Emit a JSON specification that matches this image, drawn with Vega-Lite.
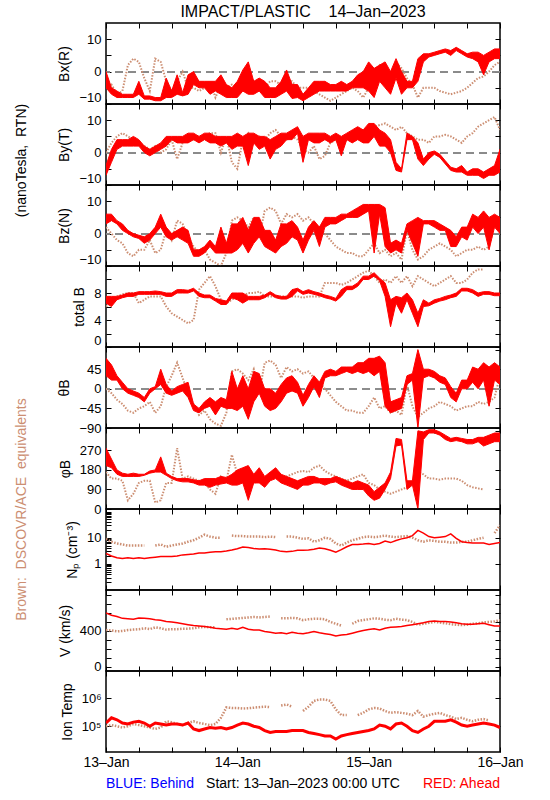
{
"$schema":"https://vega.github.io/schema/vega-lite/v6.json",
"background":"white",
"padding":{"left":13,"top":2,"right":5,"bottom":5},
"datasets":{"d":[
{"h":0,"xl":-5,"xu":0,"xb":-5,"yl":-7,"yu":-4,"yb":0,"zl":3,"zu":6,"zb":2,"bl":6.5,"bu":7.5,"bb":6,"al":30,"au":70,"ab":0,"pl":200,"pu":280,"pb":170,"n":2.5,"nb":9,"v":600,"vb":410,"t":1.3e5,"tb":1e5},
{"h":1,"xl":-7,"xu":-5,"xb":-4,"yl":-3,"yu":1,"yb":3,"zl":4,"zu":6,"zb":0,"bl":6,"bu":7.5,"bb":6.5,"al":20,"au":55,"ab":-10,"pl":190,"pu":230,"pb":140,"n":2,"nb":7,"v":575,"vb":405,"t":2e5,"tb":1.1e5},
{"h":2,"xl":-8,"xu":-6,"xb":-7,"yl":1,"yu":4,"yb":5,"zl":3,"zu":4,"zb":-2,"bl":7,"bu":7.5,"bb":7.5,"al":20,"au":30,"ab":-25,"pl":160,"pu":180,"pb":140,"n":1.7,"nb":6,"v":560,"vb":395,"t":1.7e5,"tb":1e5},
{"h":3,"xl":-8,"xu":-7,"xb":-6,"yl":2,"yu":4,"yb":6,"zl":1,"zu":3,"zb":-3,"bl":7.3,"bu":7.7,"bb":7.8,"al":0,"au":15,"ab":-35,"pl":150,"pu":165,"pb":130,"n":1.6,"nb":5.5,"v":540,"vb":400,"t":1.3e5,"tb":9e4},
{"h":4,"xl":-8,"xu":-7,"xb":2,"yl":2,"yu":4,"yb":5,"zl":0,"zu":1,"zb":-6,"bl":7.5,"bu":8,"bb":8,"al":-10,"au":0,"ab":-50,"pl":150,"pu":160,"pb":40,"n":1.7,"nb":5,"v":535,"vb":410,"t":1.2e5,"tb":1e5},
{"h":5,"xl":-8,"xu":-7,"xb":4,"yl":2,"yu":5,"yb":4,"zl":-1,"zu":0,"zb":-7,"bl":7.5,"bu":8,"bb":8,"al":-15,"au":-5,"ab":-55,"pl":150,"pu":165,"pb":70,"n":1.6,"nb":5,"v":530,"vb":415,"t":1.4e5,"tb":1.2e5},
{"h":6,"xl":-7,"xu":-3,"xb":3,"yl":2,"yu":4,"yb":3,"zl":-1.5,"zu":-0.5,"zb":-5,"bl":7.8,"bu":8.2,"bb":6.5,"al":-20,"au":-10,"ab":-45,"pl":150,"pu":160,"pb":120,"n":1.7,"nb":5,"v":545,"vb":420,"t":1.5e5,"tb":1.1e5},
{"h":7,"xl":-8.5,"xu":-7.5,"xb":-2,"yl":0,"yu":2,"yb":2,"zl":-3,"zu":-1,"zb":-5,"bl":7.8,"bu":8.2,"bb":7,"al":-30,"au":-20,"ab":-40,"pl":155,"pu":160,"pb":130,"n":1.6,"nb":5,"v":540,"vb":430,"t":1.3e5,"tb":1e5},
{"h":8,"xl":-8.5,"xu":-7.5,"xb":-6,"yl":-1,"yu":1,"yb":1,"zl":-2,"zu":0,"zb":-2,"bl":7.8,"bu":8.2,"bb":7.5,"al":-10,"au":0,"ab":-30,"pl":165,"pu":175,"pb":130,"n":1.7,"nb":null,"v":535,"vb":420,"t":1e5,"tb":9e4},
{"h":9,"xl":-9,"xu":-8,"xb":4,"yl":0,"yu":2,"yb":2,"zl":0,"zu":2,"zb":-6,"bl":7.8,"bu":8.3,"bb":7.5,"al":0,"au":5,"ab":-55,"pl":170,"pu":180,"pb":30,"n":1.8,"nb":5,"v":525,"vb":440,"t":1.3e5,"tb":8e4},
{"h":10,"xl":-9,"xu":-8,"xb":3,"yl":1,"yu":3,"yb":0,"zl":2,"zu":6,"zb":-5,"bl":7.8,"bu":8.2,"bb":7.5,"al":10,"au":45,"ab":-40,"pl":170,"pu":240,"pb":40,"n":1.9,"nb":5.5,"v":520,"vb":430,"t":1.2e5,"tb":9e4},
{"h":11,"xl":-8,"xu":-2,"xb":-3,"yl":2,"yu":5,"yb":1,"zl":-1,"zu":2,"zb":1,"bl":7.5,"bu":8,"bb":6,"al":-10,"au":10,"ab":5,"pl":155,"pu":165,"pb":120,"n":1.9,"nb":4.5,"v":505,"vb":415,"t":1.1e5,"tb":1.5e5},
{"h":12,"xl":-8,"xu":-6,"xb":-6,"yl":4,"yu":5,"yb":4,"zl":-2,"zu":0,"zb":-2,"bl":7.5,"bu":8,"bb":5,"al":-15,"au":-5,"ab":30,"pl":140,"pu":150,"pb":120,"n":1.9,"nb":5,"v":500,"vb":420,"t":1.2e5,"tb":1.4e5},
{"h":13,"xl":-7,"xu":-1,"xb":-3,"yl":3,"yu":5,"yb":-2,"zl":-1,"zu":1,"zb":4,"bl":8,"bu":8.5,"bb":4.5,"al":-10,"au":5,"ab":60,"pl":130,"pu":140,"pb":280,"n":2,"nb":5.5,"v":490,"vb":420,"t":1.2e5,"tb":1.2e5},
{"h":14,"xl":-7.5,"xu":-6.5,"xb":0,"yl":3,"yu":5,"yb":3,"zl":-2,"zu":2,"zb":3,"bl":8,"bu":8.5,"bb":4,"al":-5,"au":10,"ab":25,"pl":125,"pu":140,"pb":140,"n":2.2,"nb":6,"v":480,"vb":425,"t":1.1e5,"tb":1.1e5},
{"h":15,"xl":-7,"xu":-1,"xb":-5,"yl":3,"yu":6,"yb":5,"zl":-3,"zu":1,"zb":-1,"bl":8,"bu":8.4,"bb":3.5,"al":-20,"au":15,"ab":-10,"pl":125,"pu":140,"pb":150,"n":2.3,"nb":7,"v":470,"vb":425,"t":1.3e5,"tb":1.3e5},
{"h":16,"xl":-4,"xu":0,"xb":-5,"yl":4,"yu":6,"yb":4,"zl":-7,"zu":-5,"zb":-4,"bl":8.3,"bu":8.7,"bb":4,"al":-50,"au":-35,"ab":-35,"pl":120,"pu":135,"pb":140,"n":2.4,"nb":8,"v":460,"vb":430,"t":8e4,"tb":1.5e5},
{"h":17,"xl":-5,"xu":-3,"xb":-6,"yl":3,"yu":5,"yb":5,"zl":-7,"zu":-5,"zb":-6,"bl":7.5,"bu":8,"bb":8.5,"al":-55,"au":-45,"ab":-60,"pl":110,"pu":130,"pb":130,"n":2.6,"nb":10,"v":455,"vb":440,"t":7e4,"tb":1.3e5},
{"h":18,"xl":-5,"xu":-3,"xb":-5,"yl":4,"yu":6,"yb":5,"zl":-6,"zu":-4,"zb":-5,"bl":7.3,"bu":7.7,"bb":9.5,"al":-45,"au":-30,"ab":-50,"pl":110,"pu":140,"pb":120,"n":2.6,"nb":13,"v":450,"vb":445,"t":8e4,"tb":1.2e5},
{"h":19,"xl":-7,"xu":-3,"xb":-3,"yl":3,"yu":6,"yb":6,"zl":-4,"zu":-2,"zb":-8,"bl":7.3,"bu":7.7,"bb":10.5,"al":-40,"au":-20,"ab":-70,"pl":100,"pu":140,"pb":90,"n":2.8,"nb":11,"v":440,"vb":440,"t":9e4,"tb":1.1e5},
{"h":20,"xl":-6,"xu":-3,"xb":-8,"yl":3,"yu":5,"yb":6,"zl":-6,"zu":-4,"zb":-9,"bl":6.8,"bu":7.2,"bb":9,"al":-60,"au":-30,"ab":-80,"pl":110,"pu":140,"pb":70,"n":2.9,"nb":10,"v":430,"vb":440,"t":8.5e4,"tb":1.2e5},
{"h":21,"xl":-7,"xu":-1,"xb":-4,"yl":2,"yu":5,"yb":0,"zl":-6,"zu":2,"zb":-10,"bl":6.3,"bu":7,"bb":7,"al":-40,"au":-20,"ab":-85,"pl":115,"pu":150,"pb":150,"n":2.9,"nb":10,"v":425,"vb":null,"t":9e4,"tb":2e5},
{"h":22,"xl":-8,"xu":-4,"xb":-5,"yl":3,"yu":5,"yb":5,"zl":-6,"zu":-3,"zb":-6,"bl":6.3,"bu":6.8,"bb":6.5,"al":-45,"au":-25,"ab":-55,"pl":120,"pu":145,"pb":130,"n":3.1,"nb":null,"v":420,"vb":530,"t":8e4,"tb":4.7e5},
{"h":23,"xl":-8,"xu":-5,"xb":-4,"yl":1,"yu":5,"yb":-3,"zl":-6,"zu":3,"zb":4,"bl":7.3,"bu":8,"bb":7,"al":-45,"au":40,"ab":40,"pl":110,"pu":160,"pb":250,"n":3.4,"nb":12,"v":430,"vb":535,"t":9e4,"tb":4.5e5},
{"h":24,"xl":-8,"xu":-3,"xb":-5,"yl":2,"yu":6,"yb":-5,"zl":-5,"zu":3,"zb":5,"bl":7,"bu":8,"bb":7.5,"al":-50,"au":0,"ab":45,"pl":110,"pu":180,"pb":160,"n":3.8,"nb":11.5,"v":420,"vb":540,"t":1.1e5,"tb":4.5e5},
{"h":25,"xl":-6,"xu":0.5,"xb":-4,"yl":2,"yu":5,"yb":4,"zl":-3,"zu":5,"zb":4,"bl":6.5,"bu":8,"bb":7.5,"al":-40,"au":30,"ab":35,"pl":120,"pu":190,"pb":170,"n":4.4,"nb":11.5,"v":440,"vb":545,"t":1.3e5,"tb":4.3e5},
{"h":26,"xl":-7,"xu":3,"xb":-4,"yl":-4,"yu":6,"yb":6,"zl":-6,"zu":1,"zb":2,"bl":7,"bu":7.5,"bb":8,"al":-70,"au":0,"ab":20,"pl":40,"pu":200,"pb":150,"n":4.2,"nb":11,"v":420,"vb":550,"t":1.2e5,"tb":4.4e5},
{"h":27,"xl":-7,"xu":-3,"xb":-3,"yl":3,"yu":6,"yb":4,"zl":-3,"zu":5,"zb":5,"bl":7,"bu":7.5,"bb":8,"al":-30,"au":40,"ab":45,"pl":120,"pu":160,"pb":120,"n":3.9,"nb":11,"v":410,"vb":555,"t":1e5,"tb":4.6e5},
{"h":28,"xl":-6,"xu":-2,"xb":-4,"yl":1,"yu":5,"yb":5,"zl":-1,"zu":5,"zb":-1,"bl":7,"bu":7.5,"bb":8.2,"al":-10,"au":35,"ab":-10,"pl":120,"pu":190,"pb":130,"n":3.7,"nb":11,"v":410,"vb":550,"t":9e4,"tb":4.8e5},
{"h":29,"xl":-8,"xu":-3,"xb":-5,"yl":2,"yu":5,"yb":4,"zl":-4,"zu":1,"zb":7,"bl":7.3,"bu":7.7,"bb":7.5,"al":-40,"au":0,"ab":60,"pl":100,"pu":150,"pb":140,"n":3.8,"nb":10.5,"v":395,"vb":555,"t":7e4,"tb":5e5},
{"h":30,"xl":-8,"xu":-5,"xb":-3,"yl":-2,"yu":4,"yb":6,"zl":-5,"zu":1,"zb":8,"bl":7.8,"bu":8.2,"bb":7.5,"al":-50,"au":0,"ab":65,"pl":130,"pu":170,"pb":140,"n":3.6,"nb":11,"v":385,"vb":560,"t":6e4,"tb":4.8e5},
{"h":31,"xl":-8,"xu":-5,"xb":-3,"yl":1,"yu":5,"yb":7,"zl":-6,"zu":-2,"zb":7,"bl":7.3,"bu":7.7,"bb":7.5,"al":-45,"au":-10,"ab":55,"pl":140,"pu":190,"pb":150,"n":3.4,"nb":10.5,"v":375,"vb":null,"t":6.5e4,"tb":null},
{"h":32,"xl":-7,"xu":-3,"xb":-4,"yl":2,"yu":6,"yb":5,"zl":-4,"zu":3,"zb":3,"bl":7.1,"bu":7.5,"bb":7.5,"al":-30,"au":10,"ab":25,"pl":120,"pu":160,"pb":140,"n":3,"nb":null,"v":380,"vb":540,"t":6.5e4,"tb":5.5e5},
{"h":33,"xl":-6,"xu":0.5,"xb":-3,"yl":4,"yu":6,"yb":4,"zl":-3,"zu":3,"zb":6,"bl":7.1,"bu":7.5,"bb":7.5,"al":-10,"au":25,"ab":50,"pl":110,"pu":150,"pb":150,"n":2.9,"nb":11,"v":370,"vb":540,"t":6.5e4,"tb":6e5},
{"h":34,"xl":-8.3,"xu":-4,"xb":-3,"yl":4,"yu":7,"yb":5,"zl":-1,"zu":4,"zb":5,"bl":7.5,"bu":8.5,"bb":7.5,"al":-5,"au":30,"ab":40,"pl":100,"pu":140,"pb":160,"n":3,"nb":11,"v":385,"vb":545,"t":7e4,"tb":5e5},
{"h":35,"xl":-8,"xu":-4,"xb":-5,"yl":6,"yu":8,"yb":4,"zl":-2,"zu":2,"zb":6,"bl":8.3,"bu":8.7,"bb":7.5,"al":-10,"au":15,"ab":45,"pl":90,"pu":130,"pb":170,"n":3.3,"nb":10,"v":375,"vb":540,"t":7e4,"tb":null},
{"h":36,"xl":-9,"xu":-7,"xb":-5,"yl":-3,"yu":5,"yb":1,"zl":-6,"zu":-2,"zb":4,"bl":7.8,"bu":8.2,"bb":7.3,"al":-40,"au":-15,"ab":35,"pl":110,"pu":140,"pb":175,"n":3.3,"nb":9,"v":370,"vb":520,"t":7e4,"tb":3.5e5},
{"h":37,"xl":-8,"xu":-5,"xb":-5,"yl":4,"yu":6,"yb":0,"zl":-2,"zu":2,"zb":5,"bl":8,"bu":8.5,"bb":7.5,"al":-20,"au":10,"ab":40,"pl":110,"pu":150,"pb":170,"n":3.4,"nb":9.5,"v":380,"vb":530,"t":6e4,"tb":5e5},
{"h":38,"xl":-7,"xu":-3,"xb":-6,"yl":3,"yu":6,"yb":2,"zl":1,"zu":4,"zb":3,"bl":7.8,"bu":8.2,"bb":7.5,"al":5,"au":30,"ab":25,"pl":120,"pu":150,"pb":190,"n":3.6,"nb":7,"v":395,"vb":535,"t":5.5e4,"tb":8e5},
{"h":39,"xl":-6,"xu":-3,"xb":-7,"yl":3,"yu":6,"yb":-2,"zl":-4,"zu":2,"zb":2,"bl":7.6,"bu":8,"bb":7.5,"al":-20,"au":15,"ab":15,"pl":120,"pu":140,"pb":200,"n":4,"nb":8,"v":380,"vb":535,"t":5e4,"tb":9e5},
{"h":40,"xl":-6,"xu":-3,"xb":-8,"yl":4,"yu":6,"yb":-1,"zl":2,"zu":5,"zb":0,"bl":7.3,"bu":7.7,"bb":9.5,"al":25,"au":40,"ab":0,"pl":110,"pu":140,"pb":175,"n":3.8,"nb":10,"v":370,"vb":530,"t":4.5e4,"tb":9e5},
{"h":41,"xl":-6,"xu":-4,"xb":-9,"yl":3,"yu":5,"yb":3,"zl":3,"zu":5,"zb":-2,"bl":7.1,"bu":7.5,"bb":9.5,"al":30,"au":45,"ab":-15,"pl":120,"pu":140,"pb":160,"n":3.3,"nb":9,"v":360,"vb":500,"t":4.5e4,"tb":8e5},
{"h":42,"xl":-6,"xu":-4,"xb":-8,"yl":4,"yu":6,"yb":4,"zl":3,"zu":5,"zb":-4,"bl":6.8,"bu":7.2,"bb":9.5,"al":30,"au":40,"ab":-30,"pl":125,"pu":150,"pb":150,"n":2.8,"nb":6,"v":345,"vb":480,"t":3.5e4,"tb":4e5},
{"h":43,"xl":-6,"xu":-3,"xb":-7,"yl":-1,"yu":5,"yb":5,"zl":4,"zu":6,"zb":-5,"bl":7.5,"bu":8.5,"bb":9.2,"al":35,"au":50,"ab":-40,"pl":110,"pu":140,"pb":140,"n":3.5,"nb":5,"v":355,"vb":460,"t":4.5e4,"tb":2.5e5},
{"h":44,"xl":-6,"xu":-4,"xb":-6,"yl":4,"yu":6,"yb":5,"zl":5,"zu":6,"zb":-6,"bl":8.5,"bu":9,"bb":9.5,"al":40,"au":50,"ab":-50,"pl":100,"pu":130,"pb":130,"n":4.5,"nb":6.5,"v":360,"vb":null,"t":5e4,"tb":2.5e5},
{"h":45,"xl":-5,"xu":-3,"xb":-5,"yl":3,"yu":7,"yb":5,"zl":5,"zu":7,"zb":-6,"bl":8.5,"bu":9,"bb":10,"al":35,"au":50,"ab":-50,"pl":90,"pu":120,"pb":140,"n":5.5,"nb":8,"v":375,"vb":480,"t":5.5e4,"tb":null},
{"h":46,"xl":-5,"xu":-1,"xb":-6,"yl":4,"yu":8,"yb":6,"zl":5,"zu":8,"zb":-7,"bl":9,"bu":9.5,"bb":10.5,"al":40,"au":60,"ab":-55,"pl":90,"pu":130,"pb":150,"n":5.5,"nb":9,"v":390,"vb":510,"t":6e4,"tb":2.5e5},
{"h":47,"xl":-5,"xu":0,"xb":-8,"yl":3,"yu":7,"yb":6,"zl":6,"zu":9,"zb":-7,"bl":10,"bu":10.5,"bb":11,"al":35,"au":60,"ab":-55,"pl":90,"pu":120,"pb":160,"n":5.7,"nb":10.5,"v":405,"vb":520,"t":6.5e4,"tb":3e5},
{"h":48,"xl":-6,"xu":3,"xb":-5,"yl":3,"yu":9,"yb":7,"zl":7,"zu":9,"zb":-5,"bl":10,"bu":10.5,"bb":11.3,"al":40,"au":70,"ab":-40,"pl":60,"pu":110,"pb":120,"n":6,"nb":11,"v":415,"vb":530,"t":7e4,"tb":4e5},
{"h":49,"xl":-8,"xu":1,"xb":0,"yl":5,"yu":9,"yb":8,"zl":-6,"zu":9,"zb":-3,"bl":10.5,"bu":11,"bb":10.5,"al":30,"au":70,"ab":-20,"pl":40,"pu":80,"pb":110,"n":5.5,"nb":10.5,"v":425,"vb":540,"t":8e4,"tb":4.5e5},
{"h":50,"xl":-3,"xu":2,"xb":2,"yl":2,"yu":7,"yb":8.5,"zl":6,"zu":9,"zb":-6,"bl":9.8,"bu":10.2,"bb":9.5,"al":40,"au":75,"ab":-45,"pl":50,"pu":100,"pb":90,"n":6,"nb":11,"v":410,"vb":535,"t":1.1e5,"tb":4.3e5},
{"h":51,"xl":-5,"xu":3,"xb":1,"yl":2,"yu":6,"yb":9,"zl":-4,"zu":8,"zb":-5,"bl":7.5,"bu":9.5,"bb":10,"al":-40,"au":60,"ab":-40,"pl":90,"pu":120,"pb":80,"n":7.5,"nb":12,"v":430,"vb":525,"t":1e5,"tb":3.5e5},
{"h":52,"xl":-7,"xu":0,"xb":-2,"yl":0,"yu":4,"yb":8,"zl":-6,"zu":-3,"zb":-7,"bl":3,"bu":7,"bb":9.5,"al":-55,"au":-30,"ab":-55,"pl":140,"pu":170,"pb":70,"n":6.5,"nb":11,"v":440,"vb":520,"t":8e4,"tb":3e5},
{"h":53,"xl":-2,"xu":4,"xb":3,"yl":-5.5,"yu":-3,"yb":7,"zl":-5,"zu":-2,"zb":-6,"bl":6.5,"bu":7.5,"bb":10.5,"al":-50,"au":-25,"ab":-50,"pl":290,"pu":325,"pb":80,"n":7.8,"nb":10.5,"v":445,"vb":535,"t":1.2e5,"tb":3.2e5},
{"h":54,"xl":-7,"xu":0,"xb":1,"yl":-6,"yu":-5,"yb":8,"zl":-6,"zu":-3,"zb":-8,"bl":5,"bu":7.3,"bb":9.5,"al":-45,"au":-20,"ab":-60,"pl":295,"pu":320,"pb":90,"n":9,"nb":11,"v":450,"vb":525,"t":1.3e5,"tb":3e5},
{"h":55,"xl":-5,"xu":-3,"xb":-2,"yl":4,"yu":6,"yb":6,"zl":1,"zu":3,"zb":1,"bl":7,"bu":8,"bb":10.5,"al":10,"au":30,"ab":10,"pl":90,"pu":130,"pb":100,"n":10,"nb":11.5,"v":460,"vb":520,"t":1e5,"tb":2.8e5},
{"h":56,"xl":-5,"xu":-3,"xb":-4,"yl":4,"yu":5,"yb":5,"zl":-3,"zu":4,"zb":-5,"bl":5,"bu":7,"bb":9,"al":20,"au":35,"ab":-40,"pl":110,"pu":130,"pb":130,"n":12,"nb":10,"v":470,"vb":500,"t":7e4,"tb":2.5e5},
{"h":57,"xl":-3,"xu":4,"xb":-8,"yl":-2,"yu":3,"yb":4,"zl":-7,"zu":5,"zb":-8,"bl":3,"bu":5,"bb":10.5,"al":-90,"au":90,"ab":-65,"pl":0,"pu":360,"pb":170,"n":19,"nb":8,"v":480,"vb":470,"t":6e4,"tb":3.5e5},
{"h":58,"xl":3,"xu":5.5,"xb":-5,"yl":-4,"yu":-2,"yb":4,"zl":3,"zu":4,"zb":-7,"bl":6,"bu":7,"bb":10,"al":25,"au":45,"ab":-55,"pl":320,"pu":355,"pb":160,"n":15,"nb":7,"v":490,"vb":480,"t":8e4,"tb":2.2e5},
{"h":59,"xl":4.5,"xu":5.5,"xb":-5,"yl":-2,"yu":0,"yb":3,"zl":3,"zu":4,"zb":-5,"bl":6.1,"bu":6.5,"bb":9.5,"al":30,"au":45,"ab":-45,"pl":350,"pu":365,"pb":140,"n":11,"nb":8,"v":505,"vb":490,"t":1e5,"tb":2.5e5},
{"h":60,"xl":5,"xu":6,"xb":-5,"yl":-0.5,"yu":0.5,"yb":5,"zl":2,"zu":4,"zb":-4,"bl":6.5,"bu":7,"bb":9,"al":25,"au":40,"ab":-40,"pl":350,"pu":365,"pb":140,"n":10,"nb":7.5,"v":510,"vb":500,"t":1.5e5,"tb":2.8e5},
{"h":61,"xl":5.5,"xu":6.5,"xb":-6,"yl":-1.5,"yu":-0.5,"yb":5,"zl":1,"zu":3,"zb":-3,"bl":6.8,"bu":7.2,"bb":9.5,"al":15,"au":30,"ab":-30,"pl":340,"pu":355,"pb":135,"n":10.5,"nb":7,"v":505,"vb":495,"t":1.5e5,"tb":3e5},
{"h":62,"xl":6,"xu":7,"xb":-6.5,"yl":-3.5,"yu":-2.5,"yb":5.5,"zl":1,"zu":2,"zb":-4,"bl":7,"bu":7.5,"bb":10,"al":10,"au":25,"ab":-35,"pl":320,"pu":340,"pb":140,"n":11,"nb":7,"v":505,"vb":485,"t":1.5e5,"tb":2.5e5},
{"h":63,"xl":5,"xu":6.5,"xb":-7,"yl":-5.5,"yu":-4.5,"yb":5,"zl":-4,"zu":1,"zb":-5,"bl":7.3,"bu":7.7,"bb":10.5,"al":-20,"au":5,"ab":-40,"pl":310,"pu":325,"pb":140,"n":14,"nb":6.5,"v":500,"vb":475,"t":1.7e5,"tb":2.2e5},
{"h":64,"xl":6.5,"xu":7.5,"xb":-6.5,"yl":-6,"yu":-5,"yb":4,"zl":-4,"zu":-1,"zb":-7,"bl":7.5,"bu":8,"bb":9.5,"al":-30,"au":-10,"ab":-50,"pl":315,"pu":330,"pb":140,"n":9.5,"nb":6.5,"v":490,"vb":470,"t":1.4e5,"tb":1.8e5},
{"h":65,"xl":5.5,"xu":6.5,"xb":-6,"yl":-6,"yu":-4,"yb":3,"zl":-1,"zu":2,"zb":-6,"bl":8.3,"bu":8.7,"bb":9.5,"al":0,"au":20,"ab":-45,"pl":310,"pu":325,"pb":130,"n":7,"nb":7,"v":480,"vb":465,"t":1.1e5,"tb":2e5},
{"h":66,"xl":4.5,"xu":5.5,"xb":-5,"yl":-7,"yu":-6,"yb":5,"zl":-2,"zu":2,"zb":-5,"bl":8.3,"bu":8.7,"bb":10,"al":0,"au":20,"ab":-40,"pl":300,"pu":320,"pb":110,"n":6.5,"nb":7,"v":475,"vb":470,"t":1e5,"tb":1.7e5},
{"h":67,"xl":4,"xu":6,"xb":-3.5,"yl":-7,"yu":-5,"yb":6,"zl":2,"zu":6,"zb":-5,"bl":8,"bu":8.5,"bb":11,"al":15,"au":50,"ab":-40,"pl":300,"pu":320,"pb":100,"n":6.3,"nb":8,"v":475,"vb":480,"t":1.1e5,"tb":1.5e5},
{"h":68,"xl":3,"xu":6,"xb":-2,"yl":-7,"yu":-5,"yb":8,"zl":0,"zu":5,"zb":-4,"bl":7.5,"bu":8,"bb":11.5,"al":0,"au":45,"ab":-30,"pl":310,"pu":330,"pb":95,"n":6.2,"nb":9,"v":480,"vb":485,"t":1.2e5,"tb":1.7e5},
{"h":69,"xl":-1,"xu":5,"xb":-1.5,"yl":-8,"yu":-6,"yb":9,"zl":2,"zu":7,"zb":-5,"bl":7.8,"bu":8.2,"bb":11.5,"al":20,"au":60,"ab":-35,"pl":290,"pu":330,"pb":90,"n":6.2,"nb":10,"v":485,"vb":495,"t":1.3e5,"tb":1.8e5},
{"h":70,"xl":3,"xu":6,"xb":0,"yl":-7,"yu":-5,"yb":10,"zl":-5,"zu":5,"zb":-4,"bl":7.8,"bu":8.2,"bb":null,"al":-40,"au":50,"ab":-30,"pl":300,"pu":340,"pb":null,"n":5.5,"nb":null,"v":470,"vb":500,"t":1.2e5,"tb":1.6e5},
{"h":71,"xl":4,"xu":7,"xb":2,"yl":-7,"yu":-4,"yb":11,"zl":2,"zu":6,"zb":3,"bl":7.6,"bu":8,"bb":null,"al":20,"au":60,"ab":-20,"pl":310,"pu":350,"pb":null,"n":6,"nb":15,"v":455,"vb":505,"t":1.1e5,"tb":null},
{"h":72,"xl":4,"xu":7,"xb":3,"yl":-6,"yu":1,"yb":7,"zl":0,"zu":5,"zb":5,"bl":7.6,"bu":8,"bb":6,"al":10,"au":50,"ab":30,"pl":310,"pu":350,"pb":60,"n":6.5,"nb":30,"v":455,"vb":520,"t":9e4,"tb":2e5}
]},
"data":{"name":"d"},
"bounds":"flush",
"spacing":0,
"resolve":{"scale":{"x":"independent","y":"independent"}},
"config":{
 "font":"Liberation Sans",
 "view":{"stroke":"black","strokeWidth":1.5},
 "axis":{"domain":false,"grid":false,"tickColor":"black","tickSize":-5,"tickWidth":1,"labelFontSize":13,"labelColor":"black","labelPadding":10,"labelFlush":true,"labelOverlap":false,"titleFontSize":14,"titleFontWeight":"normal","titleColor":"black","titlePadding":7}
},
"vconcat":[
{"width":394,"height":81,
 "title":{"text":"IMPACT/PLASTIC\u00a0\u00a0\u00a0\u00a014–Jan–2023","frame":"group","anchor":"middle","fontSize":16,"fontWeight":"normal","offset":3},
 "layer":[
  {"mark":{"type":"rule","color":"#8c8c8c","strokeDash":[8,5],"strokeWidth":1},"encoding":{"y":{"datum":0,"type":"quantitative","scale":{"domain":[-10,15]},"axis":{"orient":"right","values":[-10,-5,0,5,10],"labels":false,"title":null}}}},
  {"mark":{"type":"line","strokeDash":[1.5,1.5],"strokeWidth":2,"color":"#cc8e72","clip":true},"encoding":{"x":{"field":"h","type":"quantitative","scale":{"domain":[0,72]},"axis":{"orient":"bottom","values":[0,6,12,18,24,30,36,42,48,54,60,66,72],"labels":false,"title":null}},"y":{"field":"xb","type":"quantitative","scale":{"domain":[-10,15]},"axis":{"orient":"left","values":[-10,-5,0,5,10],"labelExpr":"datum.value%10==0?datum.label:''","title":"Bx(R)"}}}},
  {"mark":{"type":"area","color":"#ff0000","stroke":"#ff0000","strokeWidth":1,"opacity":1,"clip":true},"encoding":{"x":{"field":"h","type":"quantitative","scale":{"domain":[0,72]},"axis":{"orient":"top","values":[0,6,12,18,24,30,36,42,48,54,60,66,72],"labels":false,"title":null}},"y":{"field":"xl","type":"quantitative","scale":{"domain":[-10,15]},"axis":null},"y2":{"field":"xu"}}}
 ],
 "resolve":{"axis":{"x":"independent","y":"independent"}}},
{"width":394,"height":81,
 "layer":[
  {"mark":{"type":"rule","color":"#8c8c8c","strokeDash":[8,5],"strokeWidth":1},"encoding":{"y":{"datum":0,"type":"quantitative","scale":{"domain":[-10,15]},"axis":{"orient":"right","values":[-10,-5,0,5,10],"labels":false,"title":null}}}},
  {"mark":{"type":"line","strokeDash":[1.5,1.5],"strokeWidth":2,"color":"#cc8e72","clip":true},"encoding":{"x":{"field":"h","type":"quantitative","scale":{"domain":[0,72]},"axis":{"orient":"bottom","values":[0,6,12,18,24,30,36,42,48,54,60,66,72],"labels":false,"title":null}},"y":{"field":"yb","type":"quantitative","scale":{"domain":[-10,15]},"axis":{"orient":"left","values":[-10,-5,0,5,10],"labelExpr":"datum.value%10==0?datum.label:''","title":"By(T)"}}}},
  {"mark":{"type":"area","color":"#ff0000","stroke":"#ff0000","strokeWidth":1,"opacity":1,"clip":true},"encoding":{"x":{"field":"h","type":"quantitative","scale":{"domain":[0,72]},"axis":{"orient":"top","values":[0,6,12,18,24,30,36,42,48,54,60,66,72],"labels":false,"title":null}},"y":{"field":"yl","type":"quantitative","scale":{"domain":[-10,15]},"axis":{"orient":"left","labels":false,"ticks":false,"title":"(nanoTesla,\u00a0\u00a0RTN)","titleX":-85,"titleY":56,"titleAngle":270,"titleAlign":"center","titleBaseline":"middle"}},"y2":{"field":"yu"}}}
 ],
 "resolve":{"axis":{"x":"independent","y":"independent"}}},
{"width":394,"height":81,
 "layer":[
  {"mark":{"type":"rule","color":"#8c8c8c","strokeDash":[8,5],"strokeWidth":1},"encoding":{"y":{"datum":0,"type":"quantitative","scale":{"domain":[-10,15]},"axis":{"orient":"right","values":[-10,-5,0,5,10],"labels":false,"title":null}}}},
  {"mark":{"type":"line","strokeDash":[1.5,1.5],"strokeWidth":2,"color":"#cc8e72","clip":true},"encoding":{"x":{"field":"h","type":"quantitative","scale":{"domain":[0,72]},"axis":{"orient":"bottom","values":[0,6,12,18,24,30,36,42,48,54,60,66,72],"labels":false,"title":null}},"y":{"field":"zb","type":"quantitative","scale":{"domain":[-10,15]},"axis":{"orient":"left","values":[-10,-5,0,5,10],"labelExpr":"datum.value%10==0?datum.label:''","title":"Bz(N)"}}}},
  {"mark":{"type":"area","color":"#ff0000","stroke":"#ff0000","strokeWidth":1,"opacity":1,"clip":true},"encoding":{"x":{"field":"h","type":"quantitative","scale":{"domain":[0,72]},"axis":{"orient":"top","values":[0,6,12,18,24,30,36,42,48,54,60,66,72],"labels":false,"title":null}},"y":{"field":"zl","type":"quantitative","scale":{"domain":[-10,15]},"axis":null},"y2":{"field":"zu"}}}
 ],
 "resolve":{"axis":{"x":"independent","y":"independent"}}},
{"width":394,"height":81,
 "layer":[
  {"mark":{"type":"line","strokeDash":[1.5,1.5],"strokeWidth":2,"color":"#cc8e72","clip":true},"encoding":{"x":{"field":"h","type":"quantitative","scale":{"domain":[0,72]},"axis":{"orient":"bottom","values":[0,6,12,18,24,30,36,42,48,54,60,66,72],"labels":false,"title":null}},"y":{"field":"bb","type":"quantitative","scale":{"domain":[0,12]},"axis":{"orient":"left","values":[0,2,4,6,8,10],"labelExpr":"datum.value%4==0?datum.label:''","title":"total B"}}}},
  {"mark":{"type":"area","color":"#ff0000","stroke":"#ff0000","strokeWidth":1,"opacity":1,"clip":true},"encoding":{"x":{"field":"h","type":"quantitative","scale":{"domain":[0,72]},"axis":{"orient":"top","values":[0,6,12,18,24,30,36,42,48,54,60,66,72],"labels":false,"title":null}},"y":{"field":"bl","type":"quantitative","scale":{"domain":[0,12]},"axis":{"orient":"right","values":[0,2,4,6,8,10],"labels":false,"title":null}},"y2":{"field":"bu"}}}
 ],
 "resolve":{"axis":{"x":"independent","y":"independent"}}},
{"width":394,"height":81,
 "layer":[
  {"mark":{"type":"rule","color":"#8c8c8c","strokeDash":[8,5],"strokeWidth":1},"encoding":{"y":{"datum":0,"type":"quantitative","scale":{"domain":[-90,96]},"axis":{"orient":"right","values":[-90,-45,0,45,90],"labels":false,"title":null}}}},
  {"mark":{"type":"line","strokeDash":[1.5,1.5],"strokeWidth":2,"color":"#cc8e72","clip":true},"encoding":{"x":{"field":"h","type":"quantitative","scale":{"domain":[0,72]},"axis":{"orient":"bottom","values":[0,6,12,18,24,30,36,42,48,54,60,66,72],"labels":false,"title":null}},"y":{"field":"ab","type":"quantitative","scale":{"domain":[-90,96]},"axis":{"orient":"left","values":[-90,-45,0,45],"labelFlush":false,"title":"θB"}}}},
  {"mark":{"type":"area","color":"#ff0000","stroke":"#ff0000","strokeWidth":1,"opacity":1,"clip":true},"encoding":{"x":{"field":"h","type":"quantitative","scale":{"domain":[0,72]},"axis":{"orient":"top","values":[0,6,12,18,24,30,36,42,48,54,60,66,72],"labels":false,"title":null}},"y":{"field":"al","type":"quantitative","scale":{"domain":[-90,96]},"axis":null},"y2":{"field":"au"}}}
 ],
 "resolve":{"axis":{"x":"independent","y":"independent"}}},
{"width":394,"height":81,
 "layer":[
  {"mark":{"type":"rule","strokeOpacity":0},"encoding":{"y":{"datum":0,"type":"quantitative","scale":{"domain":[0,373]},"axis":{"orient":"left","labels":false,"ticks":false,"title":"Brown:\u00a0\u00a0DSCOVR/ACE\u00a0\u00a0equivalents","titleColor":"#cc8e72","titleX":-85,"titleY":81,"titleAngle":270,"titleAlign":"center","titleBaseline":"middle"}}}},
  {"mark":{"type":"line","strokeDash":[1.5,1.5],"strokeWidth":2,"color":"#cc8e72","clip":true},"encoding":{"x":{"field":"h","type":"quantitative","scale":{"domain":[0,72]},"axis":{"orient":"bottom","values":[0,6,12,18,24,30,36,42,48,54,60,66,72],"labels":false,"title":null}},"y":{"field":"pb","type":"quantitative","scale":{"domain":[0,373]},"axis":{"orient":"left","values":[0,90,180,270],"labelFlush":false,"title":"φB"}}}},
  {"mark":{"type":"area","color":"#ff0000","stroke":"#ff0000","strokeWidth":1,"opacity":1,"clip":true},"encoding":{"x":{"field":"h","type":"quantitative","scale":{"domain":[0,72]},"axis":{"orient":"top","values":[0,6,12,18,24,30,36,42,48,54,60,66,72],"labels":false,"title":null}},"y":{"field":"pl","type":"quantitative","scale":{"domain":[0,373]},"axis":{"orient":"right","values":[0,90,180,270,360],"labels":false,"title":null}},"y2":{"field":"pu"}}}
 ],
 "resolve":{"axis":{"x":"independent","y":"independent"}}},
{"width":394,"height":81,
 "layer":[
  {"mark":{"type":"line","strokeDash":[1.5,1.5],"strokeWidth":2.5,"color":"#cc8e72","clip":true},"encoding":{"x":{"field":"h","type":"quantitative","scale":{"domain":[0,72]},"axis":{"orient":"bottom","values":[0,6,12,18,24,30,36,42,48,54,60,66,72],"labels":false,"title":null}},"y":{"field":"nb","type":"quantitative","scale":{"type":"log","domain":[0.1,125]},"axis":{"orient":"left","values":[0.2,0.3,0.4,0.5,0.6,0.7,0.8,0.9,1,2,3,4,5,6,7,8,9,10,20,30,40,50,60,70,80,90,100],"labelExpr":"datum.value==1?'1':datum.value==10?'10':''","title":"Nₚ (cm⁻³)"}}}},
  {"mark":{"type":"line","color":"#ff0000","strokeWidth":1.5,"clip":true},"encoding":{"x":{"field":"h","type":"quantitative","scale":{"domain":[0,72]},"axis":{"orient":"top","values":[0,6,12,18,24,30,36,42,48,54,60,66,72],"labels":false,"title":null}},"y":{"field":"n","type":"quantitative","scale":{"type":"log","domain":[0.1,125]},"axis":{"orient":"right","values":[1,10],"labels":false,"title":null}}}}
 ],
 "resolve":{"axis":{"x":"independent","y":"independent"}}},
{"width":394,"height":81,
 "layer":[
  {"mark":{"type":"line","strokeDash":[1.5,1.5],"strokeWidth":2.5,"color":"#cc8e72","clip":true},"encoding":{"x":{"field":"h","type":"quantitative","scale":{"domain":[0,72]},"axis":{"orient":"bottom","values":[0,6,12,18,24,30,36,42,48,54,60,66,72],"labels":false,"title":null}},"y":{"field":"vb","type":"quantitative","scale":{"domain":[-45,855]},"axis":{"orient":"left","values":[0,100,200,300,400,500,600,700,800],"labelExpr":"datum.value==0||datum.value==400?datum.label:''","title":"V (km/s)"}}}},
  {"mark":{"type":"line","color":"#ff0000","strokeWidth":1.5,"clip":true},"encoding":{"x":{"field":"h","type":"quantitative","scale":{"domain":[0,72]},"axis":{"orient":"top","values":[0,6,12,18,24,30,36,42,48,54,60,66,72],"labels":false,"title":null}},"y":{"field":"v","type":"quantitative","scale":{"domain":[-45,855]},"axis":{"orient":"right","values":[0,100,200,300,400,500,600,700,800],"labels":false,"title":null}}}}
 ],
 "resolve":{"axis":{"x":"independent","y":"independent"}}},
{"width":394,"height":81,
 "layer":[
  {"mark":{"type":"line","strokeDash":[1.5,1.5],"strokeWidth":2.5,"color":"#cc8e72","clip":true},"encoding":{"x":{"field":"h","type":"quantitative","scale":{"domain":[0,72]},"axis":{"orient":"bottom","values":[0,6,12,18,24,30,36,42,48,54,60,66,72],"labels":true,"labelFlush":false,"labelFontSize":14,"labelPadding":8,"labelExpr":"datum.value==0?'13–Jan':datum.value==24?'14–Jan':datum.value==48?'15–Jan':datum.value==72?'16–Jan':''","title":null}},"y":{"field":"tb","type":"quantitative","scale":{"type":"log","domain":[12000,9400000]},"axis":{"orient":"left","values":[100000,1000000],"labelExpr":"datum.value==100000?'10⁵':'10⁶'","title":"Ion Temp"}}}},
  {"mark":{"type":"line","color":"#ff0000","strokeWidth":3,"clip":true},"encoding":{"x":{"field":"h","type":"quantitative","scale":{"domain":[0,72]},"axis":{"orient":"top","values":[0,6,12,18,24,30,36,42,48,54,60,66,72],"labels":false,"title":null}},"y":{"field":"t","type":"quantitative","scale":{"type":"log","domain":[12000,9400000]},"axis":{"orient":"right","values":[100000,1000000],"labels":false,"title":null}}}}
 ],
 "resolve":{"axis":{"x":"independent","y":"independent"}}},
{"width":394,"height":32,"data":{"values":[{}]},"view":{"stroke":null},
 "layer":[
  {"mark":{"type":"text","text":"BLUE: Behind","align":"left","baseline":"middle","color":"#0000ff","fontSize":14},"encoding":{"x":{"datum":0,"type":"quantitative","scale":{"domain":[0,72]},"axis":null},"y":{"datum":0,"type":"quantitative","scale":{"domain":[0,1]},"axis":null}}},
  {"mark":{"type":"text","text":"Start: 13–Jan–2023 00:00 UTC","align":"center","baseline":"middle","color":"#000000","fontSize":14},"encoding":{"x":{"datum":36,"type":"quantitative","scale":{"domain":[0,72]},"axis":null},"y":{"datum":0,"type":"quantitative","scale":{"domain":[0,1]},"axis":null}}},
  {"mark":{"type":"text","text":"RED: Ahead","align":"right","baseline":"middle","color":"#ff0000","fontSize":14},"encoding":{"x":{"datum":72,"type":"quantitative","scale":{"domain":[0,72]},"axis":null},"y":{"datum":0,"type":"quantitative","scale":{"domain":[0,1]},"axis":null}}}
 ]}
]
}
